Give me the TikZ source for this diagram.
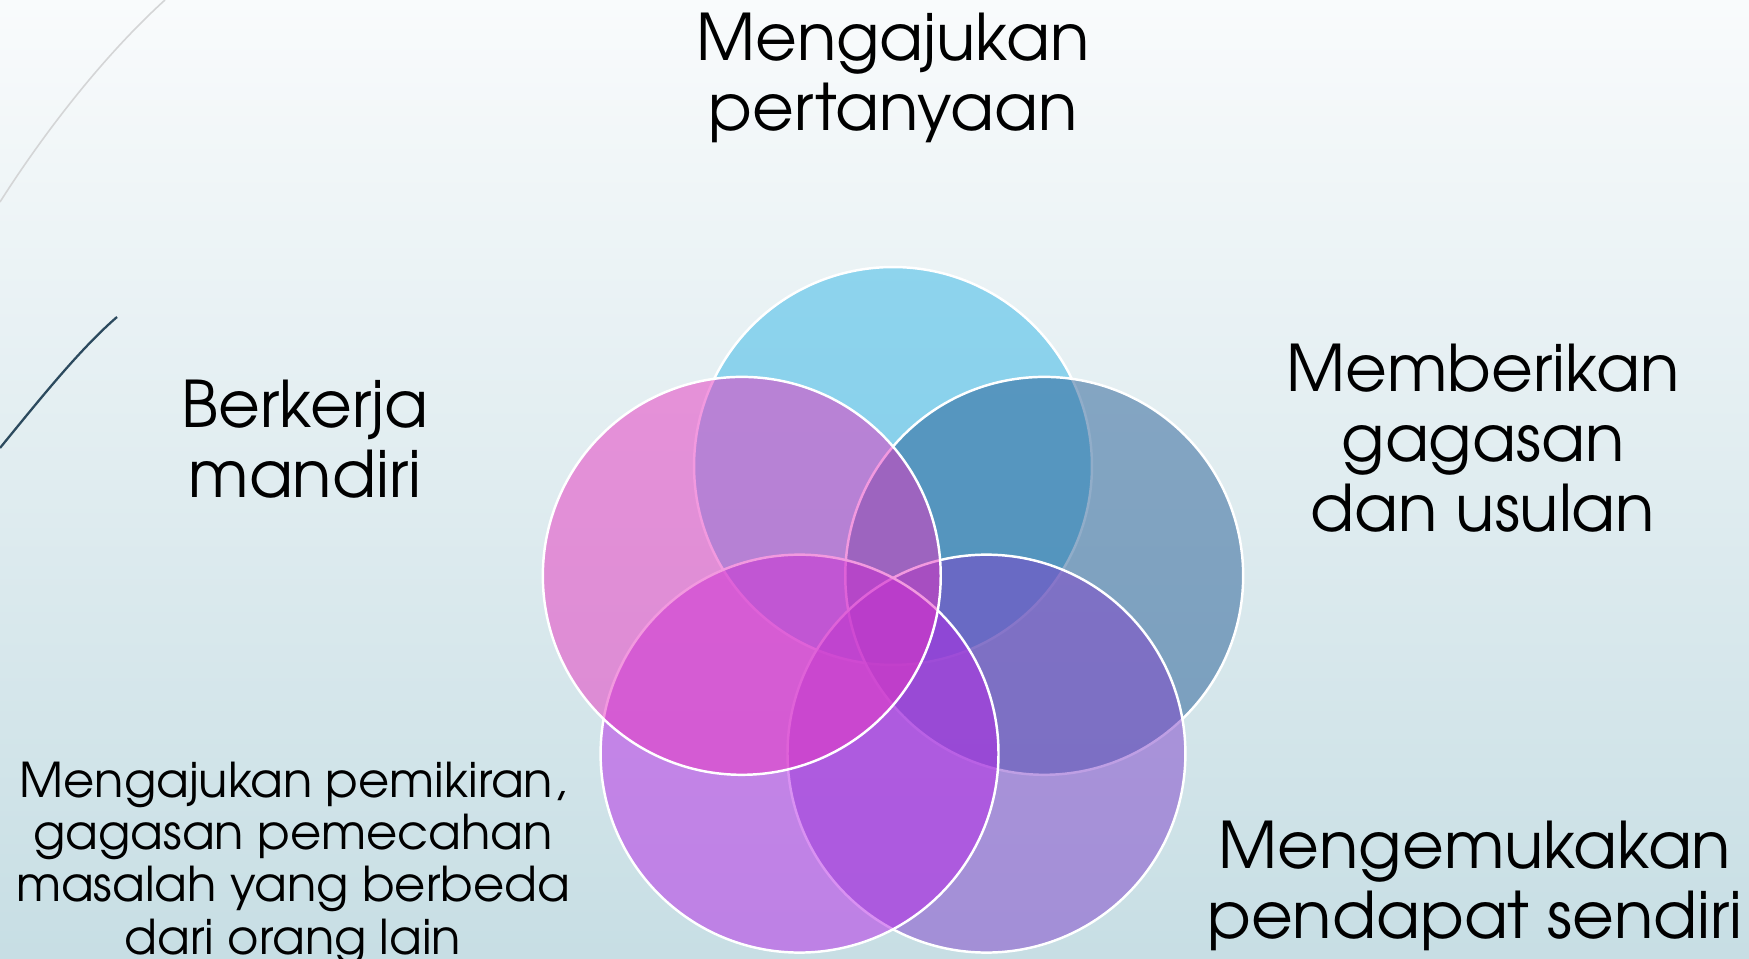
\documentclass[tikz,border=0pt]{standalone}
\usepackage{fontspec}
\setmainfont{TeX Gyre Adventor}
\usepackage{tikz}
\usepackage{xcolor}
\definecolor{latar-atas}{RGB}{249,251,252}
\definecolor{latar-bawah}{RGB}{199,222,228}
\definecolor{biru-muda}{RGB}{50,182,231}
\definecolor{biru-tua}{RGB}{36,92,148}
\definecolor{ungu}{RGB}{127,65,202}
\definecolor{lembayung}{RGB}{181,37,230}
\definecolor{merah-muda}{RGB}{230,52,192}
\tikzset{
    venn-circle/.style = {circle, draw=white, line width=1.4pt, fill opacity=0.5, minimum size=7.96cm, inner sep=0pt},
    big-label/.style = {align=center, text=black, font=\fontsize{36.6}{39.7}\selectfont},
    small-label/.style = {align=center, text=black, font=\fontsize{27.3}{29.8}\selectfont},
}

\begin{document}
\begin{tikzpicture}[x=0.02cm, y=0.02cm]
\shade[top color=latar-atas, bottom color=latar-bawah] (0,0) rectangle (1749,959);
\useasboundingbox (0,0) rectangle (1749,959);
\draw[color=black!15!latar-atas, line width=0.9pt] (165,959) .. controls (100,900) and (40,820) .. (0,757);
\draw[color={rgb,255:red,44;green,74;blue,94}, line width=1.3pt] (117,642) .. controls (80,610) and (40,560) .. (0,511);

\coordinate (pusat) at (893,334);
\node[venn-circle, fill=biru-muda] (c-tanya) at ([shift={(pusat)}]90:159) {};
\node[venn-circle, fill=biru-tua] (c-gagasan) at ([shift={(pusat)}]18:159) {};
\node[venn-circle, fill=ungu] (c-pendapat) at ([shift={(pusat)}]-54:159) {};
\node[venn-circle, fill=lembayung] (c-pemikiran) at ([shift={(pusat)}]-126:159) {};
\node[venn-circle, fill=merah-muda] (c-mandiri) at ([shift={(pusat)}]162:159) {};

\node[big-label] (l-tanya) at (893,881) {Mengajukan\\pertanyaan};
\node[big-label] (l-gagasan) at (1483,521) {Memberikan\\gagasan\\dan usulan};
\node[big-label] (l-mandiri) at (305,520) {Berkerja\\mandiri};
\node[small-label] (l-pemikiran) at (293,96) {Mengajukan pemikiran,\\gagasan pemecahan\\masalah yang berbeda\\dari orang lain};
\node[big-label] (l-pendapat) at (1475,73) {Mengemukakan\\pendapat sendiri};
\end{tikzpicture}
\end{document}
